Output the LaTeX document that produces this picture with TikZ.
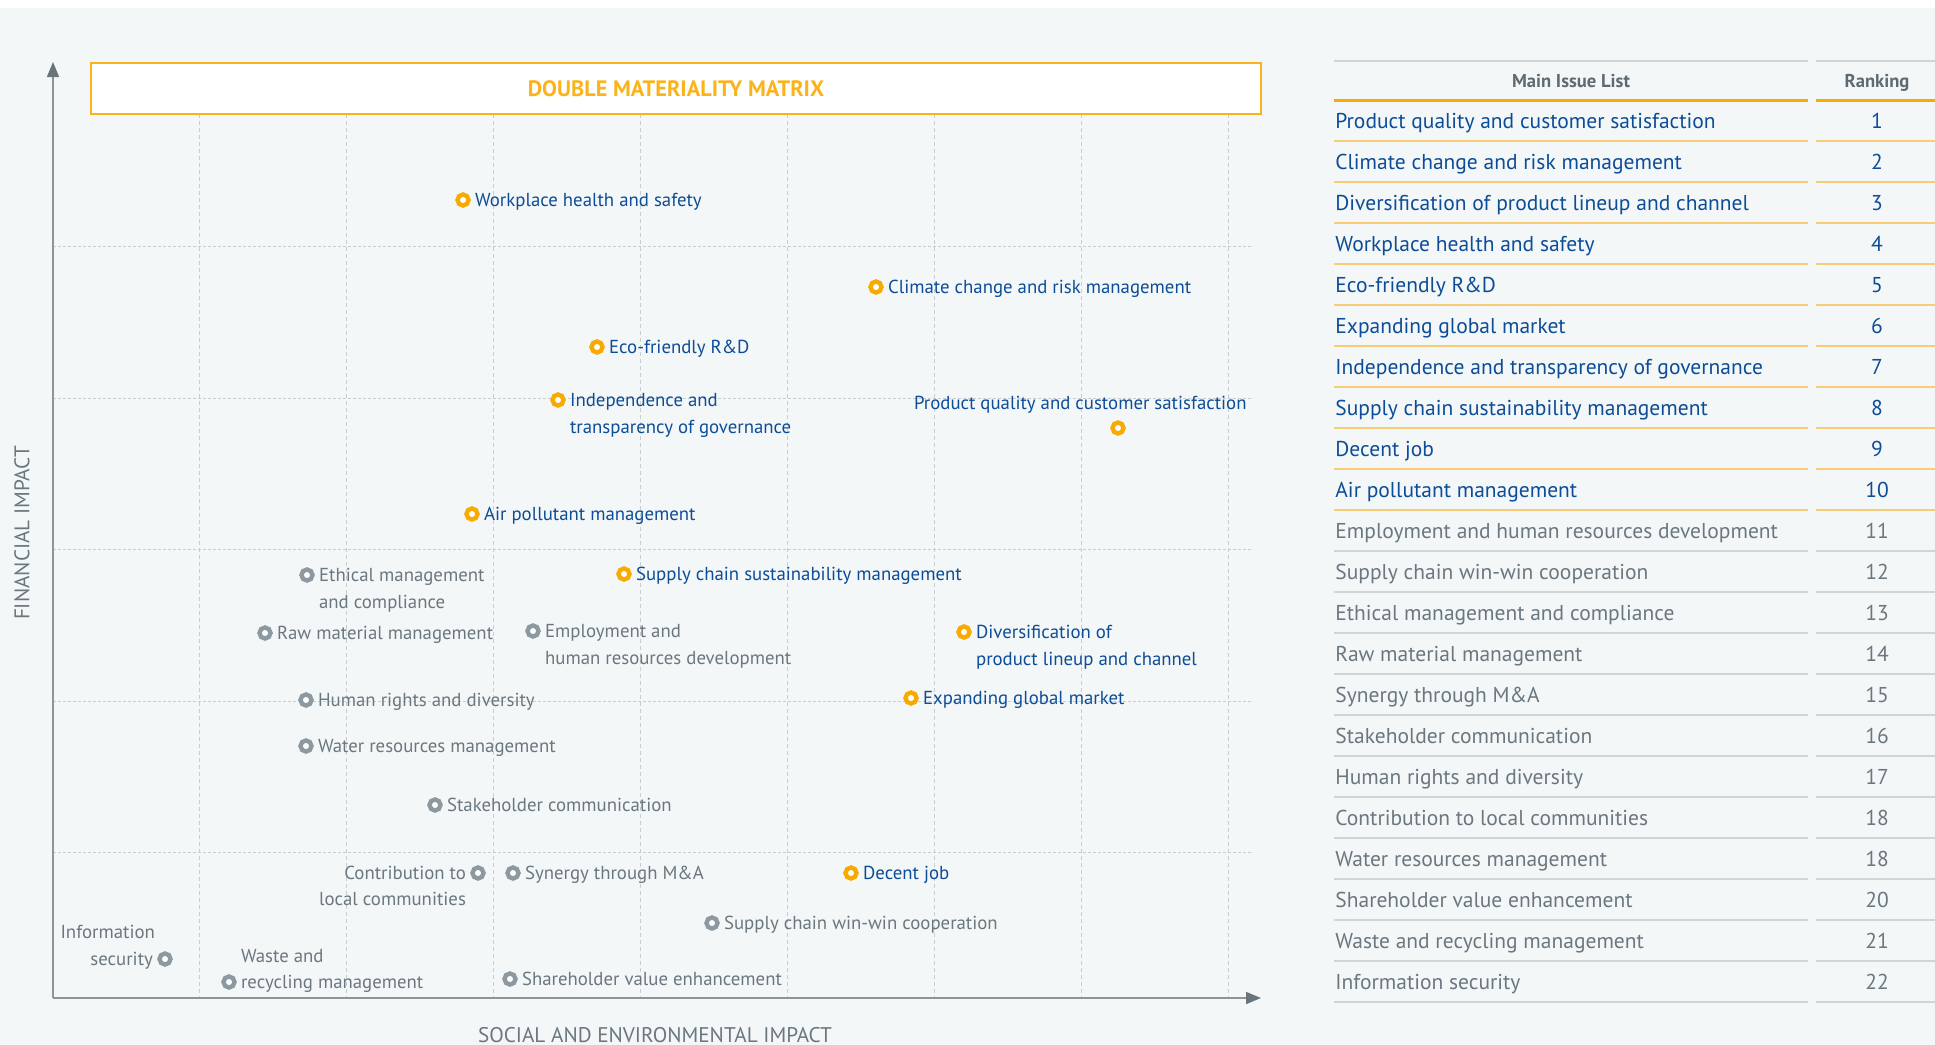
\documentclass[tikz,border=0pt]{standalone}
\usepackage{fontspec}
\setmainfont{PT Sans}
\usetikzlibrary{positioning,arrows.meta}

\definecolor{paper}{HTML}{F4F7F8}
\definecolor{hotc}{HTML}{F7AA00}
\definecolor{titlec}{HTML}{FAB31A}
\definecolor{bluec}{HTML}{0D4C97}
\definecolor{greyc}{HTML}{6B777F}
\definecolor{dotc}{HTML}{8D99A1}
\definecolor{gridc}{HTML}{C8CDD1}
\definecolor{axisc}{HTML}{8A959C}
\definecolor{tipc}{HTML}{69747B}
\definecolor{headc}{HTML}{5F6B73}
\definecolor{rulehot}{HTML}{F8CD75}
\definecolor{rulecold}{HTML}{D0D5D9}

\begin{document}
\begin{tikzpicture}[x=0.5pt,y=-0.5pt,
  hot/.style={circle,draw=hotc,fill=white,line width=2.2pt,minimum size=5.5pt,inner sep=0pt},
  cold/.style={hot,draw=dotc},
  lbl/.style={inner sep=0pt,text height=6.6pt,text depth=0pt,font=\fontsize{9.4}{11}\selectfont},
  hotlbl/.style={lbl,text=bluec},
  coldlbl/.style={lbl,text=greyc},
  vgrid/.style={gridc,line width=0.5pt,dash pattern=on 2pt off 1.5pt},
  hgrid/.style={gridc,line width=0.5pt,dash pattern=on 1.5pt off 1pt},
  axis/.style={axisc,line width=0.8pt,-{Triangle[length=7.5pt,width=6pt,color=tipc]}},
  axlbl/.style={inner sep=0pt,text height=7.4pt,text depth=0pt,text=greyc,font=\fontsize{10.6}{12}\selectfont},
  row/.style={inner sep=0pt,text height=7.5pt,text depth=0pt,font=\fontsize{10.75}{13}\selectfont},
  hotrow/.style={row,anchor=west,text=bluec},
  coldrow/.style={row,anchor=west,text=greyc},
  hotrank/.style={row,text=bluec},
  coldrank/.style={row,text=greyc},
  head/.style={inner sep=0pt,text height=6.5pt,text depth=0pt,text=headc,font=\bfseries\fontsize{9.3}{11}\selectfont},
  hotrule/.style={rulehot,line width=1pt},
  coldrule/.style={rulecold,line width=1pt}]

% page
\fill[white] (0,0) rectangle (1935,1045);
\fill[paper] (0,8) rectangle (1935,1045);
\useasboundingbox (0,0) rectangle (1935,1045);

% grid
\draw[vgrid] (199,114) -- (199,998);
\draw[vgrid] (346,114) -- (346,998);
\draw[vgrid] (493,114) -- (493,998);
\draw[vgrid] (640,114) -- (640,998);
\draw[vgrid] (787,114) -- (787,998);
\draw[vgrid] (934,114) -- (934,998);
\draw[vgrid] (1081,114) -- (1081,998);
\draw[vgrid] (1228,114) -- (1228,998);
\draw[hgrid] (53,246) -- (1252,246);
\draw[hgrid] (53,398) -- (1252,398);
\draw[hgrid] (53,549) -- (1252,549);
\draw[hgrid] (53,701) -- (1252,701);
\draw[hgrid] (53,852) -- (1252,852);

% axes
\coordinate (O) at (53,998);
\coordinate (ytop) at (53,62);
\coordinate (xend) at (1261,998);
\draw[axis] (O) -- (ytop);
\draw[axis] (O) -- (xend);
\node[axlbl] (xlab) at (655,1035) {SOCIAL AND ENVIRONMENTAL IMPACT};
\node[axlbl,rotate=90] (ylab) at (22,533) {FINANCIAL IMPACT};

\node[draw=titlec,fill=white,line width=0.75pt,minimum width=585pt,minimum height=25.5pt,inner sep=0pt,text=titlec,font=\bfseries\fontsize{11.15}{13}\selectfont] (title) at (676,88.5) {DOUBLE MATERIALITY MATRIX};

% material issues
\node[hot] (health) at (463,200) {};
\node[hotlbl,right=2pt of health] (health-t) {Workplace health and safety};
\node[hot] (climate) at (876,287) {};
\node[hotlbl,right=2pt of climate] (climate-t) {Climate change and risk management};
\node[hot] (eco) at (597,347) {};
\node[hotlbl,right=2pt of eco] (eco-t) {Eco-friendly R\&D};
\node[hot] (indep) at (558,400) {};
\node[hotlbl,right=2pt of indep] (indep-t) {Independence and};
\node[hotlbl,anchor=west] (indep-t2) at ([yshift=-13.5pt]indep-t.west) {transparency of governance};
\node[hot] (quality) at (1118,428) {};
\node[hotlbl,anchor=east] (quality-t) at ([xshift=64.5pt,yshift=12.5pt]quality.center) {Product quality and customer satisfaction};
\node[hot] (air) at (472,514) {};
\node[hotlbl,right=2pt of air] (air-t) {Air pollutant management};
\node[hot] (supply) at (624,574) {};
\node[hotlbl,right=2pt of supply] (supply-t) {Supply chain sustainability management};
\node[hot] (divers) at (964,632) {};
\node[hotlbl,right=2pt of divers] (divers-t) {Diversification of};
\node[hotlbl,anchor=west] (divers-t2) at ([yshift=-13.5pt]divers-t.west) {product lineup and channel};
\node[hot] (global) at (911,698) {};
\node[hotlbl,right=2pt of global] (global-t) {Expanding global market};
\node[hot] (job) at (851,873) {};
\node[hotlbl,right=2pt of job] (job-t) {Decent job};

% other issues
\node[cold] (ethic) at (307,575) {};
\node[coldlbl,right=2pt of ethic] (ethic-t) {Ethical management};
\node[coldlbl,anchor=west] (ethic-t2) at ([yshift=-13.5pt]ethic-t.west) {and compliance};
\node[cold] (raw) at (265,633) {};
\node[coldlbl,right=2pt of raw] (raw-t) {Raw material management};
\node[cold] (employ) at (533,631) {};
\node[coldlbl,right=2pt of employ] (employ-t) {Employment and};
\node[coldlbl,anchor=west] (employ-t2) at ([yshift=-13.5pt]employ-t.west) {human resources development};
\node[cold] (human) at (306,700) {};
\node[coldlbl,right=2pt of human] (human-t) {Human rights and diversity};
\node[cold] (water) at (306,746) {};
\node[coldlbl,right=2pt of water] (water-t) {Water resources management};
\node[cold] (stake) at (435,805) {};
\node[coldlbl,right=2pt of stake] (stake-t) {Stakeholder communication};
\node[cold] (contrib) at (478,873) {};
\node[coldlbl,left=2pt of contrib] (contrib-t) {Contribution to};
\node[coldlbl,anchor=east] (contrib-t2) at ([yshift=-13pt]contrib-t.east) {local communities};
\node[cold] (synergy) at (513,873) {};
\node[coldlbl,right=2pt of synergy] (synergy-t) {Synergy through M\&A};
\node[cold] (winwin) at (712,923) {};
\node[coldlbl,right=2pt of winwin] (winwin-t) {Supply chain win-win cooperation};
\node[cold] (info) at (165,959) {};
\node[coldlbl,left=2pt of info] (info-t) {security};
\node[coldlbl,anchor=east] (info-t2) at ([xshift=1pt,yshift=13.5pt]info-t.east) {Information};
\node[cold] (waste) at (229,982) {};
\node[coldlbl,right=2pt of waste] (waste-t) {recycling management};
\node[coldlbl,anchor=west] (waste-t2) at ([yshift=13pt]waste-t.west) {Waste and};
\node[cold] (share) at (510,979) {};
\node[coldlbl,right=2pt of share] (share-t) {Shareholder value enhancement};

% issue list
\draw[rulecold,line width=0.75pt] (1334,61) -- (1808,61) (1816,61) -- (1935,61);
\node[head] (h-issue) at (1571,80.7) {Main Issue List};
\node[head] (h-rank) at (1877,80.7) {Ranking};
\draw[hotc,line width=1.5pt] (1334,100) -- (1808,100) (1816,100) -- (1935,100);

\node[hotrow] (t1) at (1335,120.5) {Product quality and customer satisfaction};
\node[hotrank] (r1) at (1877,120.5) {1};
\draw[hotrule] (1334,141) -- (1808,141) (1816,141) -- (1935,141);
\node[hotrow] (t2) at (1335,161.5) {Climate change and risk management};
\node[hotrank] (r2) at (1877,161.5) {2};
\draw[hotrule] (1334,182) -- (1808,182) (1816,182) -- (1935,182);
\node[hotrow] (t3) at (1335,202.5) {Diversification of product lineup and channel};
\node[hotrank] (r3) at (1877,202.5) {3};
\draw[hotrule] (1334,223) -- (1808,223) (1816,223) -- (1935,223);
\node[hotrow] (t4) at (1335,243.5) {Workplace health and safety};
\node[hotrank] (r4) at (1877,243.5) {4};
\draw[hotrule] (1334,264) -- (1808,264) (1816,264) -- (1935,264);
\node[hotrow] (t5) at (1335,284.5) {Eco-friendly R\&D};
\node[hotrank] (r5) at (1877,284.5) {5};
\draw[hotrule] (1334,305) -- (1808,305) (1816,305) -- (1935,305);
\node[hotrow] (t6) at (1335,325.5) {Expanding global market};
\node[hotrank] (r6) at (1877,325.5) {6};
\draw[hotrule] (1334,346) -- (1808,346) (1816,346) -- (1935,346);
\node[hotrow] (t7) at (1335,366.5) {Independence and transparency of governance};
\node[hotrank] (r7) at (1877,366.5) {7};
\draw[hotrule] (1334,387) -- (1808,387) (1816,387) -- (1935,387);
\node[hotrow] (t8) at (1335,407.5) {Supply chain sustainability management};
\node[hotrank] (r8) at (1877,407.5) {8};
\draw[hotrule] (1334,428) -- (1808,428) (1816,428) -- (1935,428);
\node[hotrow] (t9) at (1335,448.5) {Decent job};
\node[hotrank] (r9) at (1877,448.5) {9};
\draw[hotrule] (1334,469) -- (1808,469) (1816,469) -- (1935,469);
\node[hotrow] (t10) at (1335,489.5) {Air pollutant management};
\node[hotrank] (r10) at (1877,489.5) {10};
\draw[hotrule] (1334,510) -- (1808,510) (1816,510) -- (1935,510);
\node[coldrow] (t11) at (1335,530.5) {Employment and human resources development};
\node[coldrank] (r11) at (1877,530.5) {11};
\draw[coldrule] (1334,551) -- (1808,551) (1816,551) -- (1935,551);
\node[coldrow] (t12) at (1335,571.5) {Supply chain win-win cooperation};
\node[coldrank] (r12) at (1877,571.5) {12};
\draw[coldrule] (1334,592) -- (1808,592) (1816,592) -- (1935,592);
\node[coldrow] (t13) at (1335,612.5) {Ethical management and compliance};
\node[coldrank] (r13) at (1877,612.5) {13};
\draw[coldrule] (1334,633) -- (1808,633) (1816,633) -- (1935,633);
\node[coldrow] (t14) at (1335,653.5) {Raw material management};
\node[coldrank] (r14) at (1877,653.5) {14};
\draw[coldrule] (1334,674) -- (1808,674) (1816,674) -- (1935,674);
\node[coldrow] (t15) at (1335,694.5) {Synergy through M\&A};
\node[coldrank] (r15) at (1877,694.5) {15};
\draw[coldrule] (1334,715) -- (1808,715) (1816,715) -- (1935,715);
\node[coldrow] (t16) at (1335,735.5) {Stakeholder communication};
\node[coldrank] (r16) at (1877,735.5) {16};
\draw[coldrule] (1334,756) -- (1808,756) (1816,756) -- (1935,756);
\node[coldrow] (t17) at (1335,776.5) {Human rights and diversity};
\node[coldrank] (r17) at (1877,776.5) {17};
\draw[coldrule] (1334,797) -- (1808,797) (1816,797) -- (1935,797);
\node[coldrow] (t18) at (1335,817.5) {Contribution to local communities};
\node[coldrank] (r18) at (1877,817.5) {18};
\draw[coldrule] (1334,838) -- (1808,838) (1816,838) -- (1935,838);
\node[coldrow] (t19) at (1335,858.5) {Water resources management};
\node[coldrank] (r19) at (1877,858.5) {18};
\draw[coldrule] (1334,879) -- (1808,879) (1816,879) -- (1935,879);
\node[coldrow] (t20) at (1335,899.5) {Shareholder value enhancement};
\node[coldrank] (r20) at (1877,899.5) {20};
\draw[coldrule] (1334,920) -- (1808,920) (1816,920) -- (1935,920);
\node[coldrow] (t21) at (1335,940.5) {Waste and recycling management};
\node[coldrank] (r21) at (1877,940.5) {21};
\draw[coldrule] (1334,961) -- (1808,961) (1816,961) -- (1935,961);
\node[coldrow] (t22) at (1335,981.5) {Information security};
\node[coldrank] (r22) at (1877,981.5) {22};
\draw[coldrule] (1334,1002) -- (1808,1002) (1816,1002) -- (1935,1002);
\end{tikzpicture}
\end{document}
